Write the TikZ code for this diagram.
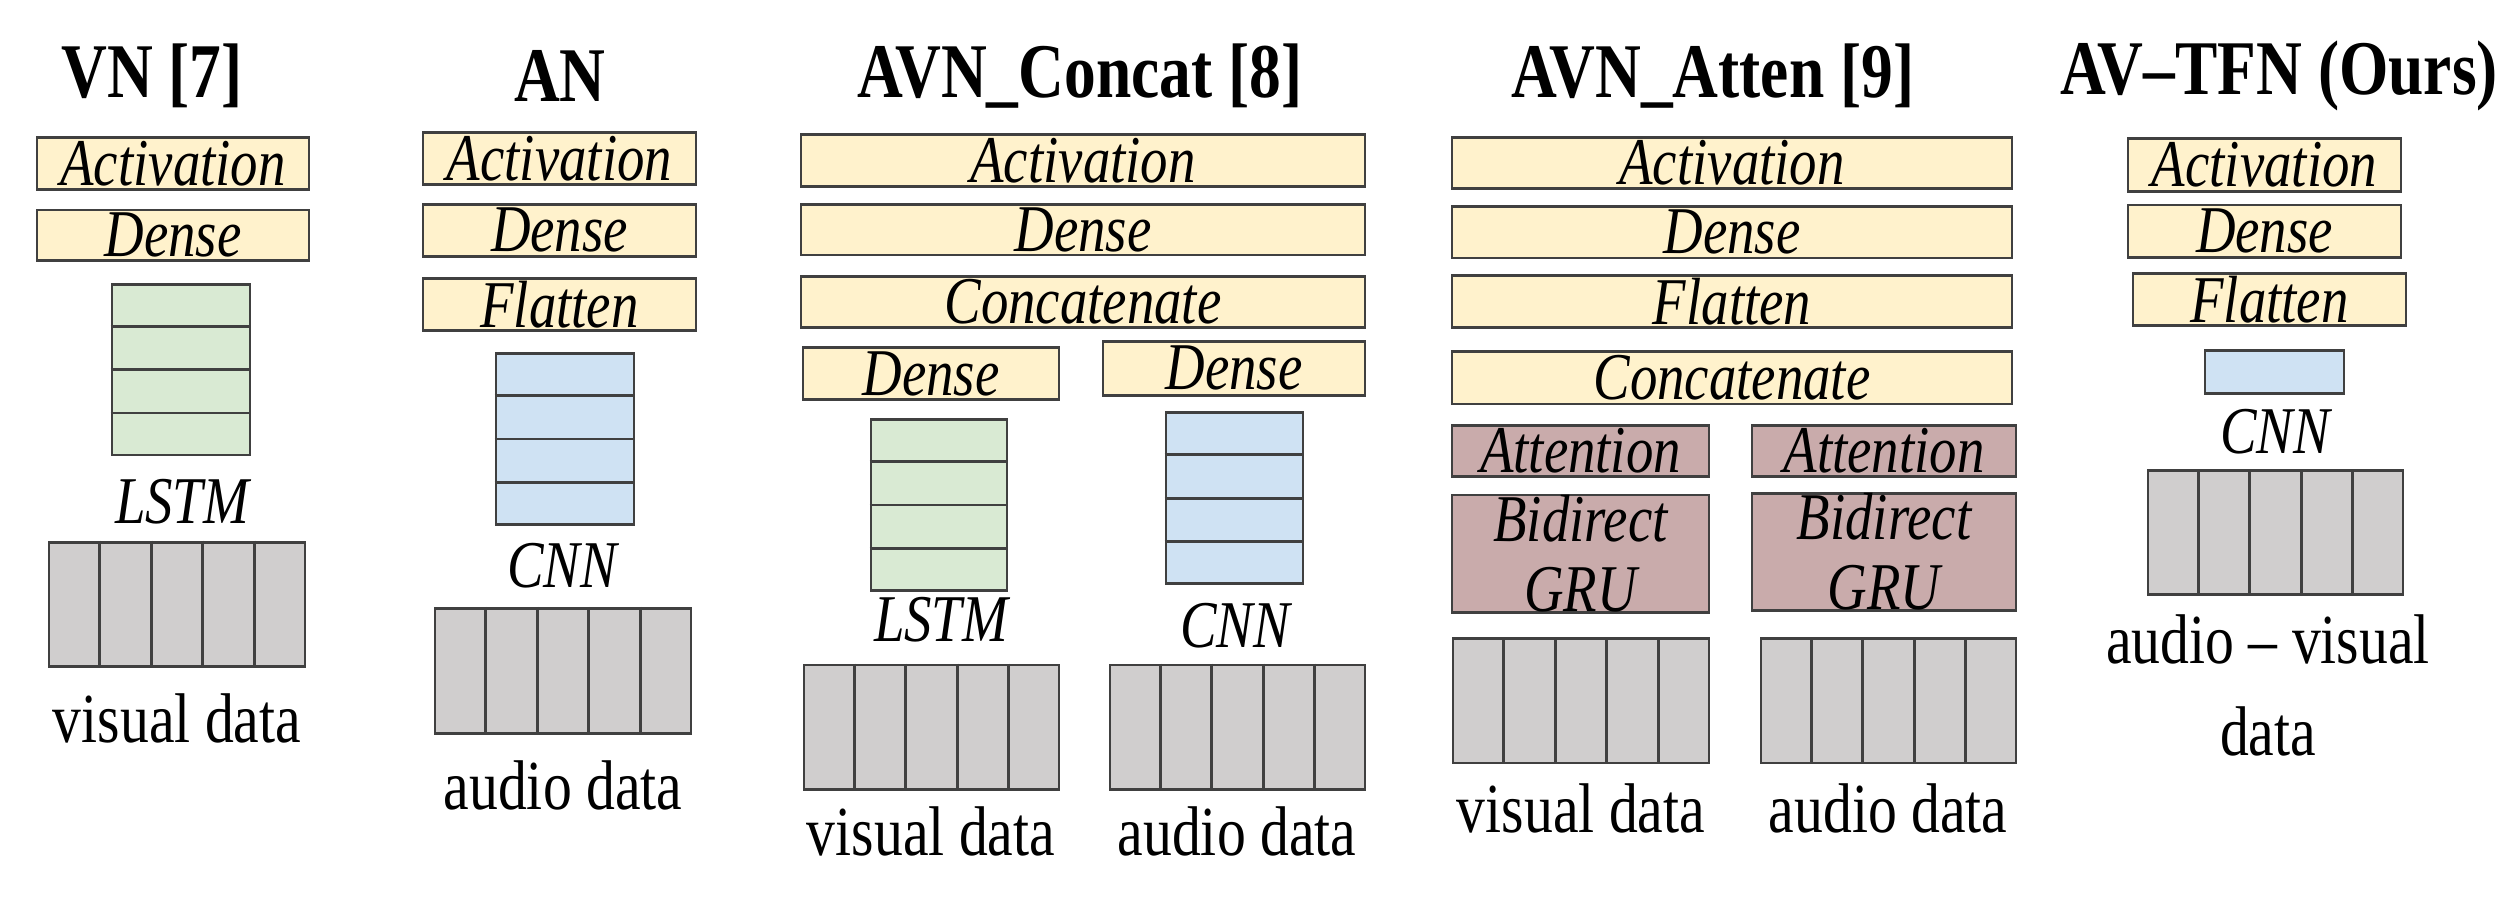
\documentclass[tikz,border=0pt]{standalone}
\usepackage{fontspec}
\setmainfont{Liberation Serif}[FakeStretch=0.82]
\definecolor{layerfill}{HTML}{FFF2CC}
\definecolor{lstmfill}{HTML}{D9EAD3}
\definecolor{cnnfill}{HTML}{CFE2F3}
\definecolor{grufill}{HTML}{C9ABAB}
\definecolor{datafill}{HTML}{D0CECE}
\definecolor{edge}{HTML}{404040}
\tikzset{
  box/.style={rectangle,draw=edge,thick,inner sep=0pt,align=center,font=\fontsize{19}{20}\selectfont\itshape},
  layer/.style={box,fill=layerfill},
  lstm/.style={box,fill=lstmfill},
  cnn/.style={box,fill=cnnfill},
  gru/.style={box,fill=grufill},
  data/.style={box,fill=datafill},
  title/.style={font=\fontsize{22}{24}\selectfont\bfseries},
  netname/.style={font=\fontsize{19}{22}\selectfont\itshape},
  txt/.style={font=\fontsize{20}{26}\selectfont,align=center}
}
% block from corner (x1,y1) to corner (x2,y2), pixel units
\newcommand{\blk}[7]{%
  \pgfmathsetmacro{\bw}{(#5-#3)*0.01}\pgfmathsetmacro{\bh}{(#6-#4)*0.00726}%
  \node[#2,minimum width=\bw cm,minimum height=\bh cm] (#1) at ({(#3+#5)/2},{(#4+#6)/2}) {#7};}
% cells of a stack (rows) or of a data grid (columns)
\newcommand{\rows}[1]{\foreach \k in {1,2,3} \draw[edge,thick] ($(#1.north west)!\k/4!(#1.south west)$) -- ($(#1.north east)!\k/4!(#1.south east)$);}
\newcommand{\cols}[1]{\foreach \k in {1,...,4} \draw[edge,thick] ($(#1.north west)!\k/5!(#1.north east)$) -- ($(#1.south west)!\k/5!(#1.south east)$);}
\usetikzlibrary{calc}
\begin{document}
\begin{tikzpicture}[x=0.01cm,y=-0.00726cm]
\useasboundingbox (0,0) rectangle (2500,1270);
% VN
\node[title] (vnT) at (152,104) {VN [7]};
\blk{vnAct}{layer}{37}{189}{309}{261}{Activation}
\blk{vnDen}{layer}{37}{289}{309}{359}{Dense}
\blk{vnLstm}{lstm}{112}{391}{250}{626}{} \rows{vnLstm}
\node[netname] (vnLc) at (182,690) {LSTM};
\blk{vnDat}{data}{49}{746}{305}{917}{} \cols{vnDat}
\node[txt] (vnDl) at (177,989) {visual data};
% AN
\node[title] (anT) at (560,104) {AN};
\blk{anAct}{layer}{423}{182}{696}{254}{Activation}
\blk{anDen}{layer}{423}{281}{696}{353}{Dense}
\blk{anFla}{layer}{423}{383}{696}{455}{Flatten}
\blk{anCnn}{cnn}{496}{486}{634}{722}{} \rows{anCnn}
\node[netname] (anCc) at (562,778) {CNN};
\blk{anDat}{data}{435}{837}{691}{1009}{} \cols{anDat}
\node[txt] (anDl) at (563,1081) {audio data};
% AVN_Concat
\node[title] (acT) at (1080,104) {AVN\_Concat [8]};
\blk{acAct}{layer}{801}{185}{1365}{257}{Activation}
\blk{acDen}{layer}{801}{281}{1365}{351}{Dense}
\blk{acCat}{layer}{801}{380}{1365}{451}{Concatenate}
\blk{acDenV}{layer}{803}{478}{1059}{550}{Dense}
\blk{acDenA}{layer}{1103}{470}{1365}{544}{Dense}
\blk{acLstm}{lstm}{871}{577}{1007}{813}{} \rows{acLstm}
\blk{acCnn}{cnn}{1166}{568}{1303}{803}{} \rows{acCnn}
\node[netname] (acLc) at (941,853) {LSTM};
\node[netname] (acCc) at (1235,861) {CNN};
\blk{acDatV}{data}{804}{915}{1059}{1086}{} \cols{acDatV}
\blk{acDatA}{data}{1110}{915}{1365}{1086}{} \cols{acDatA}
\node[txt] (acVl) at (931,1144) {visual data};
\node[txt] (acAl) at (1237,1144) {audio data};
% AVN_Atten
\node[title] (atT) at (1713,104) {AVN\_Atten [9]};
\blk{atAct}{layer}{1452}{189}{2012}{259}{Activation}
\blk{atDen}{layer}{1452}{284}{2012}{355}{Dense}
\blk{atFla}{layer}{1452}{379}{2012}{451}{Flatten}
\blk{atCat}{layer}{1452}{484}{2012}{556}{Concatenate}
\blk{atAttV}{gru}{1452}{585}{1709}{656}{Attention}
\blk{atAttA}{gru}{1752}{585}{2016}{656}{Attention}
\blk{atGruV}{gru}{1452}{687}{1709}{837}{Bidirect\\GRU}
\blk{atGruA}{gru}{1752}{682}{2016}{837}{Bidirect\\GRU}
\blk{atDatV}{data}{1453}{879}{1709}{1050}{} \cols{atDatV}
\blk{atDatA}{data}{1761}{879}{2016}{1050}{} \cols{atDatA}
\node[txt] (atVl) at (1581,1112) {visual data};
\node[txt] (atAl) at (1888,1112) {audio data};
% AV-TFN
\node[title] (tfT) at (2279,104) {AV--TFN (Ours)};
\blk{tfAct}{layer}{2128}{191}{2401}{263}{Activation}
\blk{tfDen}{layer}{2128}{282}{2401}{354}{Dense}
\blk{tfFla}{layer}{2133}{376}{2406}{448}{Flatten}
\blk{tfCnn}{cnn}{2205}{482}{2344}{542}{}
\node[netname] (tfCc) at (2275,594) {CNN};
\blk{tfDat}{data}{2148}{648}{2403}{818}{} \cols{tfDat}
\node[txt] (tfDl) at (2268,943) {audio -- visual\\data};
\end{tikzpicture}
\end{document}
